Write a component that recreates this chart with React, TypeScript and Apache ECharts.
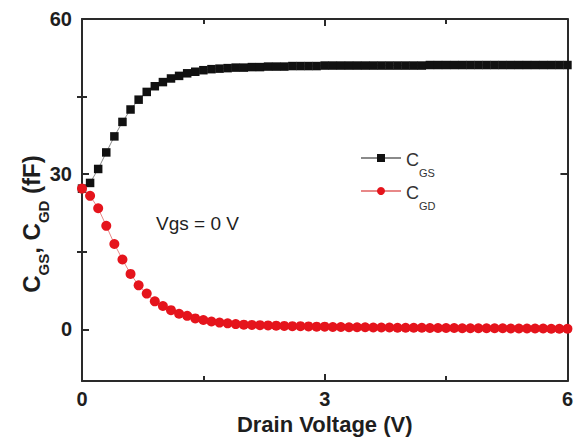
import React, { useEffect, useRef } from "react";
import * as echarts from "echarts";

const voltage = [
  0, 0.1, 0.2, 0.3, 0.4, 0.5, 0.6, 0.7, 0.8, 0.9,
  1, 1.1, 1.2, 1.3, 1.4, 1.5, 1.6, 1.7, 1.8, 1.9,
  2, 2.1, 2.2, 2.3, 2.4, 2.5, 2.6, 2.7, 2.8, 2.9,
  3, 3.1, 3.2, 3.3, 3.4, 3.5, 3.6, 3.7, 3.8, 3.9,
  4, 4.1, 4.2, 4.3, 4.4, 4.5, 4.6, 4.7, 4.8, 4.9,
  5, 5.1, 5.2, 5.3, 5.4, 5.5, 5.6, 5.7, 5.8, 5.9,
  6,
];

const cgs = [
  27.2, 28.3, 31.0, 34.2, 37.3, 40.1, 42.5, 44.4, 45.9, 47.0,
  47.8, 48.5, 49.0, 49.5, 49.8, 50.1, 50.3, 50.4, 50.5, 50.6,
  50.6, 50.7, 50.7, 50.8, 50.8, 50.8, 50.9, 50.9, 50.9, 50.9,
  51.0, 51.0, 51.0, 51.0, 51.0, 51.0, 51.0, 51.0, 51.0, 51.0,
  51.0, 51.0, 51.0, 51.1, 51.1, 51.1, 51.1, 51.1, 51.1, 51.1,
  51.1, 51.1, 51.1, 51.1, 51.1, 51.1, 51.1, 51.1, 51.1, 51.1,
  51.1,
];

const cgd = [
  27.2, 25.8, 23.4, 20.0, 16.5, 13.5, 10.7, 8.5, 6.9, 5.4,
  4.5, 3.7, 3.0, 2.6, 2.1, 1.8, 1.5, 1.3, 1.15, 1.0,
  0.9, 0.85, 0.8, 0.75, 0.7, 0.65, 0.6, 0.6, 0.55, 0.5,
  0.5, 0.45, 0.45, 0.4, 0.4, 0.4, 0.35, 0.35, 0.35, 0.3,
  0.3, 0.3, 0.3, 0.25, 0.25, 0.25, 0.25, 0.2, 0.2, 0.2,
  0.2, 0.2, 0.2, 0.15, 0.15, 0.15, 0.15, 0.15, 0.1, 0.1,
  0.1,
];

const yMajorTicks = [0, 30, 60];
const yMinorTicks = [15, 45];

const FONT = "'Liberation Sans', Arial, sans-serif";
const AXIS_COLOR = "#2a2a2a";
const TEXT_COLOR = "#1e1e1e";

export default function App() {
  const ref = useRef<HTMLDivElement>(null);
  useEffect(() => {
    if (!ref.current) return;
    const chart = echarts.init(ref.current, null, { renderer: "svg" });
    const axisLine = { show: true, onZero: false, lineStyle: { color: AXIS_COLOR, width: 2 } };
    const baseX = {
      type: "value" as const,
      min: 0,
      max: 6,
      interval: 3,
      splitLine: { show: false },
      axisLine,
      axisTick: { show: true, inside: true, length: 7, lineStyle: { color: AXIS_COLOR, width: 2 } },
      minorTick: { show: true, splitNumber: 2, length: 5, lineStyle: { color: AXIS_COLOR, width: 2 } },
    };
    const baseY = {
      type: "value" as const,
      min: -10,
      max: 60,
      splitLine: { show: false },
      axisLine,
    };
    const option = {
      animation: false,
      grid: { left: 82, right: 4, top: 19, bottom: 63, containLabel: false },
      legend: {
        orient: "vertical",
        left: 355,
        top: 146,
        itemWidth: 40,
        itemHeight: 10,
        itemGap: 6,
        data: ["CGS", "CGD"],
        formatter: (name: string) =>
          name === "CGS" ? "{c|C}{s|GS}" : "{c|C}{s|GD}",
        textStyle: {
          fontFamily: FONT,
          color: "#333",
          rich: {
            c: { fontSize: 18, fontFamily: FONT, color: "#333", lineHeight: 22, verticalAlign: "bottom" },
            s: { fontSize: 11, fontFamily: FONT, color: "#333", lineHeight: 22, verticalAlign: "bottom", padding: [0, 0, -9, 0] },
          },
        },
      },
      graphic: [
        {
          type: "text",
          left: 156,
          top: 214,
          style: { text: "Vgs = 0 V", fontSize: 19, fontFamily: FONT, fill: TEXT_COLOR },
        },
        {
          type: "text",
          x: 28,
          y: 224,
          rotation: Math.PI / 2,
          style: {
            text: "{b|C}{sub|GS}{b|, C}{sub|GD}{b| (fF)}",
            align: "center",
            verticalAlign: "middle",
            fontFamily: FONT,
            rich: {
              b: { fontSize: 24, fontWeight: "bold", fontFamily: FONT, fill: TEXT_COLOR, lineHeight: 30, verticalAlign: "bottom" },
              sub: { fontSize: 15, fontWeight: "bold", fontFamily: FONT, fill: TEXT_COLOR, lineHeight: 30, verticalAlign: "bottom", padding: [0, 0, -8, 0] },
            },
          },
        },
      ],
      xAxis: [
        {
          ...baseX,
          position: "bottom",
          name: "Drain Voltage (V)",
          nameLocation: "middle",
          nameGap: 31,
          nameTextStyle: { fontSize: 22, fontWeight: "bold", fontFamily: FONT, color: TEXT_COLOR },
          axisLabel: { show: true, fontSize: 20, fontWeight: "bold", fontFamily: FONT, color: TEXT_COLOR, margin: 8 },
        },
        {
          ...baseX,
          position: "top",
          axisLabel: { show: false },
        },
      ],
      yAxis: [
        {
          ...baseY,
          position: "left",
          axisTick: { show: true, inside: true, length: 7, customValues: yMajorTicks, lineStyle: { color: AXIS_COLOR, width: 2 } },
          axisLabel: { show: true, customValues: yMajorTicks, fontSize: 20, fontWeight: "bold", fontFamily: FONT, color: TEXT_COLOR, margin: 10 },
        },
        {
          ...baseY,
          position: "right",
          axisTick: { show: true, inside: true, length: 7, customValues: yMajorTicks, lineStyle: { color: AXIS_COLOR, width: 2 } },
          axisLabel: { show: false },
        },
        {
          ...baseY,
          position: "left",
          axisLine: { show: false },
          axisTick: { show: true, inside: true, length: 5, customValues: yMinorTicks, lineStyle: { color: AXIS_COLOR, width: 2 } },
          axisLabel: { show: false },
        },
        {
          ...baseY,
          position: "right",
          axisLine: { show: false },
          axisTick: { show: true, inside: true, length: 5, customValues: yMinorTicks, lineStyle: { color: AXIS_COLOR, width: 2 } },
          axisLabel: { show: false },
        },
      ],
      series: [
        {
          name: "CGS",
          type: "line",
          xAxisIndex: 0,
          yAxisIndex: 0,
          data: voltage.map((v, i) => [v, cgs[i]]),
          symbol: "rect",
          symbolSize: 8.5,
          itemStyle: { color: "#111111" },
          lineStyle: { color: "#8a8a8a", width: 1 },
          z: 3,
        },
        {
          name: "CGD",
          type: "line",
          xAxisIndex: 0,
          yAxisIndex: 0,
          data: voltage.map((v, i) => [v, cgd[i]]),
          symbol: "circle",
          symbolSize: 10,
          itemStyle: { color: "#e5141c" },
          lineStyle: { color: "#e88888", width: 1 },
          z: 4,
        },
      ],
    };
    chart.setOption(option as any);
    return () => chart.dispose();
  }, []);
  return <div ref={ref} style={{ width: 576, height: 444, position: "absolute", left: 0, top: 0 }} />;
}
